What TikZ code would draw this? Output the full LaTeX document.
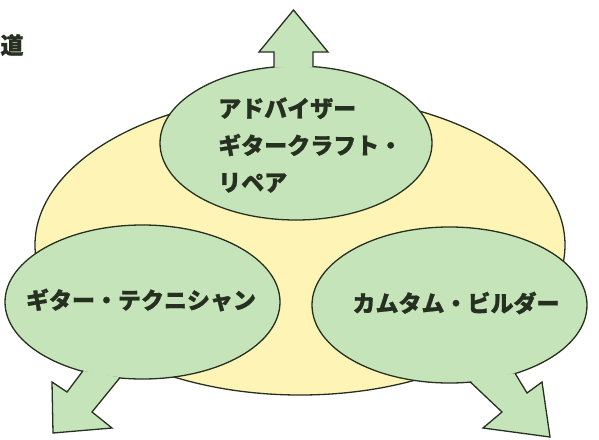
\documentclass[tikz,border=0pt]{standalone}
\usepackage{fontspec}
\newfontfamily\jpfont[FakeBold=1.0]{Noto Sans CJK JP}
\usetikzlibrary{shapes.geometric}
\definecolor{leaf}{RGB}{198,228,186}
\definecolor{cream}{RGB}{254,244,182}
\definecolor{ink}{RGB}{38,48,32}
\begin{document}
\begin{tikzpicture}[x=1pt,y=-1pt,
  blob/.style={ellipse,draw=ink,line width=1.3pt,inner sep=0pt},
  greenblob/.style={blob,fill=leaf},
  arrowshape/.style={fill=leaf,draw=ink,line width=1.3pt,line join=miter},
  jplabel/.style={inner sep=0pt,text=ink,font=\jpfont\bfseries\fontsize{23}{37}\selectfont}]
\useasboundingbox (0,0) rectangle (599,439);
% outer field
\node[blob,fill=cream,minimum width=530pt,minimum height=300pt] (core) at (300,245) {};
% three green ellipses
\node[greenblob,minimum width=272pt,minimum height=154pt] (top) at (296,143) {};
\node[greenblob,minimum width=275pt,minimum height=154pt] (left) at (142.5,302) {};
\node[greenblob,minimum width=275pt,minimum height=156pt] (right) at (449.5,305) {};
% arrows (open outline, filled)
\filldraw[arrowshape] (274,67.6) -- (274,52) -- (259,52) -- (293.5,10) -- (328,52) -- (313,52) -- (313,67.2);
\filldraw[arrowshape] (83,370.8) -- (67,392) -- (52,382) -- (53,433) -- (112,428) -- (92,412) -- (120,377.6);
\filldraw[arrowshape] (515,373.2) -- (527,393) -- (542,382) -- (550,437) -- (483,428) -- (502,412) -- (470,381.7);
% texts
\node[jplabel,anchor=west,align=left] (toptext) at (218,145) {アドバイザー\\ギタークラフト・\\リペア};
\node[jplabel] (lefttext) at (141,300) {ギター・テクニシャン};
\node[jplabel] (righttext) at (456,303) {カムタム・ビルダー};
\node[jplabel] (cut) at (12,45) {道};
\end{tikzpicture}
\end{document}
